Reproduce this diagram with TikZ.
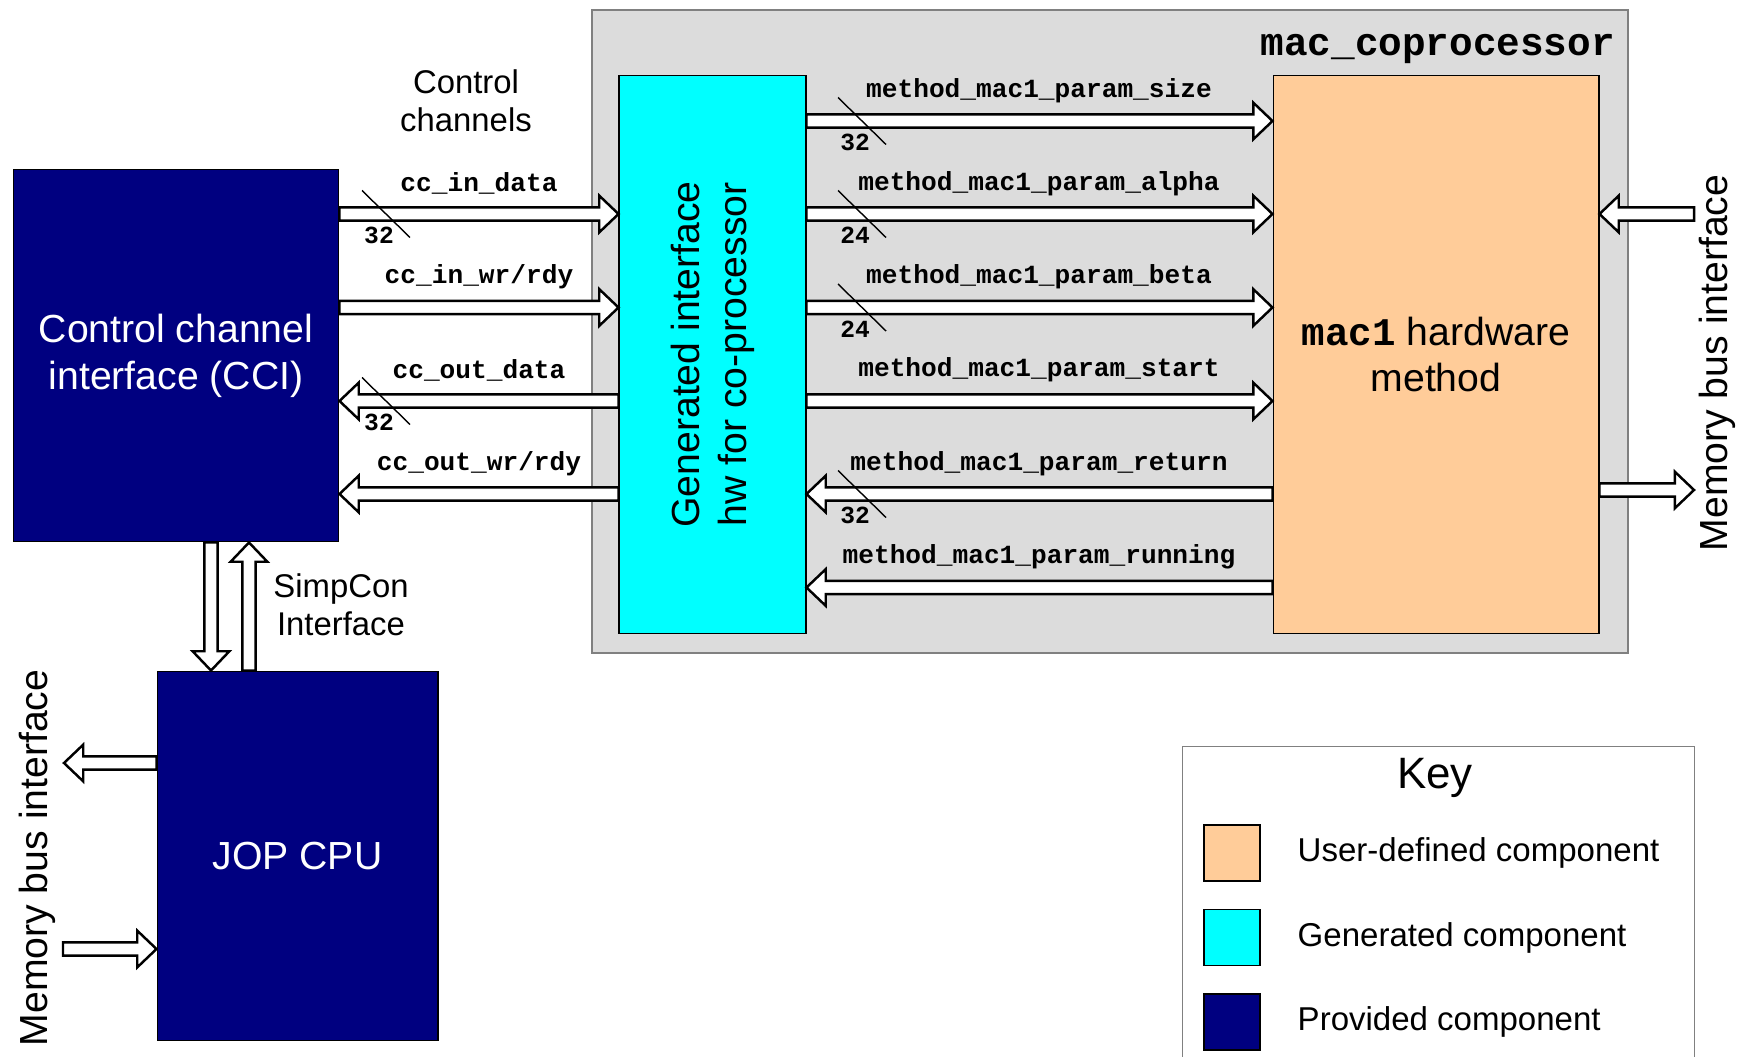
\documentclass[tikz,border=0pt]{standalone}
\usepackage{fontspec}
\setmainfont{Liberation Sans}
\setmonofont{Liberation Mono}
\usetikzlibrary{calc,positioning}
\definecolor{provided}{HTML}{000080}
\definecolor{generated}{HTML}{00FFFF}
\definecolor{userdef}{HTML}{FFCC99}
\definecolor{cpback}{HTML}{DCDCDC}
\newcommand{\boxfont}{\fontsize{22.3}{26.6}\selectfont}
\newcommand{\notefont}{\fontsize{18.7}{21.8}\selectfont}
\newcommand{\keyfont}{\fontsize{18.8}{22}\selectfont}
\newcommand{\sigfont}{\fontsize{14.9}{17}\selectfont\ttfamily\bfseries}
\newcommand{\numfont}{\fontsize{14}{16}\selectfont\ttfamily\bfseries}
\newcommand{\titlefont}{\fontsize{22.4}{26}\selectfont\ttfamily\bfseries}
\tikzset{
	box/.style = {draw, line width=0.6pt, inner sep=0pt, align=center, font=\boxfont}, % component blocks
	swatch/.style = {draw, line width=0.6pt, minimum size=1.12cm, inner sep=0pt},
	sig/.style = {font=\sigfont, inner sep=1pt},
	width/.style = {font=\numfont, inner sep=1pt},
	tick/.style = {line width=0.8pt},
	% hollow block arrow, drawn from the start point to the tip
	bus/.style = {draw, fill=white, line width=1.4pt, line join=miter,
		to path={let \p1=(\tikztostart), \p2=(\tikztotarget), \n1={atan2(\y2-\y1,\x2-\x1)} in
			($(\p1)+(\n1+90:0.133cm)$) -- ($(\p2)+(\n1+180:0.385cm)+(\n1+90:0.133cm)$)
			-- ($(\p2)+(\n1+180:0.385cm)+(\n1+90:0.367cm)$) -- (\p2)
			-- ($(\p2)+(\n1+180:0.385cm)+(\n1-90:0.367cm)$) -- ($(\p2)+(\n1+180:0.385cm)+(\n1-90:0.133cm)$)
			-- ($(\p1)+(\n1-90:0.133cm)$) -- cycle}}
}

\begin{document}
\begin{tikzpicture}[x=0.02cm, y=-0.02cm]
	\useasboundingbox (0,0) rectangle (1744,1057);
	% co-processor frame
	\node[draw=gray, line width=0.9pt, fill=cpback, minimum width=20.72cm, minimum height=12.86cm] (cp) at (1110,331.5) {};
	\node[font=\titlefont, anchor=east] (cpname) at (1621,49) {mac\_coprocessor};
	% blocks
	\node[box, fill=provided, text=white, minimum width=6.52cm, minimum height=7.46cm] (cci) at (176,355.5) {Control channel\\interface (CCI)};
	\node[box, fill=provided, text=white, minimum width=5.62cm, minimum height=7.4cm] (jop) at (297.5,856) {JOP CPU};
	\node[box, fill=generated, minimum width=3.74cm, minimum height=11.18cm] (gen) at (712.5,354.5) {};
	\node[rotate=90, align=center, font=\boxfont] (gentext) at (gen) {Generated interface\\hw for co-processor};
	\node[box, fill=userdef, minimum width=6.52cm, minimum height=11.18cm] (user) at (1436,354.5) {{\ttfamily\bfseries mac1} hardware\\method};
	% notes
	\node[align=center, font=\notefont] (ccnote) at (466,101) {Control\\channels};
	\node[align=center, font=\notefont] (scnote) at (341,605) {SimpCon\\Interface};
	\node[rotate=90, font=\boxfont] (memleft) at (37,858) {Memory bus interface};
	\node[rotate=90, font=\boxfont] (memright) at (1717,363) {Memory bus interface};
	% control channels
	\draw[bus] (cci.east |- 0,214) to (gen.west |- 0,214);
	\draw[bus] (cci.east |- 0,307.5) to (gen.west |- 0,307.5);
	\draw[bus] (gen.west |- 0,401) to (cci.east |- 0,401);
	\draw[bus] (gen.west |- 0,494) to (cci.east |- 0,494);
	\node[sig] (l1) at (479,183.5) {cc\_in\_data};
	\node[sig] (l2) at (479,277) {cc\_in\_wr/rdy};
	\node[sig] (l3) at (479,370) {cc\_out\_data};
	\node[sig] (l4) at (479,464) {cc\_out\_wr/rdy};
	\draw[tick] (362,190.5) -- (410,237.5);
	\node[width] (w1) at (379,235.5) {32};
	\draw[tick] (362,377.5) -- (410,424.5);
	\node[width] (w3) at (379,422.5) {32};
	% method parameters
	\draw[bus] (gen.east |- 0,121) to (user.west |- 0,121);
	\draw[bus] (gen.east |- 0,214) to (user.west |- 0,214);
	\draw[bus] (gen.east |- 0,307.5) to (user.west |- 0,307.5);
	\draw[bus] (gen.east |- 0,401) to (user.west |- 0,401);
	\draw[bus] (user.west |- 0,494) to (gen.east |- 0,494);
	\draw[bus] (user.west |- 0,587.5) to (gen.east |- 0,587.5);
	\node[sig] (m1) at (1039,91) {method\_mac1\_param\_size};
	\node[sig] (m2) at (1039,183.5) {method\_mac1\_param\_alpha};
	\node[sig] (m3) at (1039,277) {method\_mac1\_param\_beta};
	\node[sig] (m4) at (1039,370) {method\_mac1\_param\_start};
	\node[sig] (m5) at (1039,464) {method\_mac1\_param\_return};
	\node[sig] (m6) at (1039,557) {method\_mac1\_param\_running};
	\draw[tick] (838,97.5) -- (886,144.5);
	\node[width] (w5) at (855,142.5) {32};
	\draw[tick] (838,190.5) -- (886,237.5);
	\node[width] (w6) at (855,235.5) {24};
	\draw[tick] (838,284) -- (886,331);
	\node[width] (w7) at (855,329) {24};
	\draw[tick] (838,470.5) -- (886,517.5);
	\node[width] (w9) at (855,515.5) {32};
	% memory buses and simpcon
	\coordinate (memin) at (1694,214);
	\coordinate (memout) at (1694,490);
	\draw[bus] (memin) to (user.east |- memin);
	\draw[bus] (user.east |- memout) to (memout);
	\draw[bus] (cci.south -| 211,0) to (jop.north -| 211,0);
	\draw[bus] (jop.north -| 249,0) to (cci.south -| 249,0);
	\coordinate (jopout) at (64,763);
	\coordinate (jopin) at (63,949);
	\draw[bus] (jop.west |- jopout) to (jopout);
	\draw[bus] (jopin) to (jop.west |- jopin);
	% key
	\node[draw=gray, line width=0.6pt, minimum width=10.26cm, minimum height=6.6cm] (key) at (1438.5,911) {};
	\node[font=\fontsize{25}{30}\selectfont] (keyname) at (1435,778) {Key};
	\node[swatch, fill=userdef] (k1) at (1232,853) {};
	\node[swatch, fill=generated] (k2) at (1232,937.5) {};
	\node[swatch, fill=provided] (k3) at (1232,1022) {};
	\node[font=\keyfont, anchor=west, right=0.62cm of k1] (t1) {User-defined component};
	\node[font=\keyfont, anchor=west, right=0.62cm of k2] (t2) {Generated component};
	\node[font=\keyfont, anchor=west, right=0.62cm of k3] (t3) {Provided component};
\end{tikzpicture}
\end{document}
